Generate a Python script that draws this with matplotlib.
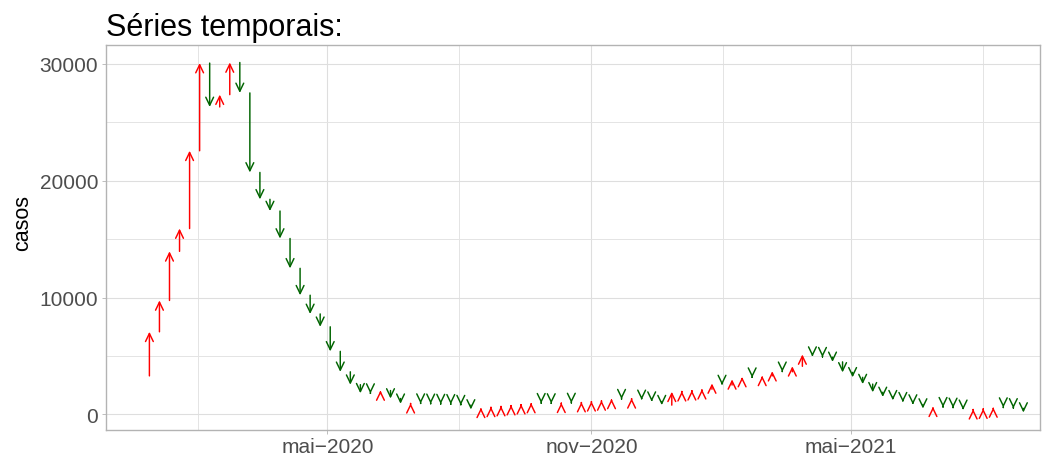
import matplotlib
matplotlib.use("Agg")
import matplotlib.pyplot as plt
import matplotlib.dates as mdates
import pandas as pd

plt.rcParams['font.family'] = ['Liberation Sans', 'DejaVu Sans']

# casos semanais (o primeiro valor so serve de ponto de partida da primeira seta)
semanas = pd.date_range('2019-12-22', periods=89, freq='7D')
casos = [
    3300,
    7070, 9750, 13950, 15900, 22550, 30050, 26300, 27350, 30100, 27500,
    20700, 18400, 17400, 15050, 12500, 10200, 8600, 7500, 5400, 3650,
    2550, 1820, 1790, 2050, 1370, 920, 960, 930, 910, 890,
    870, 800, 430, 570, 650, 720, 800, 880, 980, 960,
    940, 1000, 980, 1060, 1130, 1200, 1330, 1310, 1380, 1250,
    1100, 800, 1940, 1990, 2070, 2160, 2650, 2520, 3000, 3200,
    3150, 3300, 3700, 3650, 4120, 5130, 4950, 4900, 4500, 3600,
    3180, 2600, 1900, 1500, 1220, 1050, 850, 510, 660, 620,
    560, 400, 450, 500, 600, 590, 520, 170,
]

datas_ticks = pd.to_datetime(['2020-05-01', '2020-11-01', '2021-05-01'])
rotulos_ticks = ['mai\u22122020', 'nov\u22122020', 'mai\u22122021']
datas_minor = pd.to_datetime(['2020-02-01', '2020-08-01', '2021-02-01', '2021-08-01'])
y_ticks = [0, 10000, 20000, 30000]
y_minor = [5000, 15000, 25000]

W, H = 1059, 460
fig = plt.figure(figsize=(W / 100, H / 100), dpi=100)
ax = fig.add_axes([105.7 / W, 1 - 431 / H, (1040 - 105.7) / W, (431 - 46) / H])

x = mdates.date2num(semanas)
for i in range(1, len(casos)):
    cor = 'red' if casos[i] > casos[i - 1] else 'darkgreen'
    ax.annotate('', xy=(x[i], casos[i]), xytext=(x[i], casos[i - 1]),
                arrowprops=dict(arrowstyle='->,head_length=0.58,head_width=0.28',
                                color=cor, lw=1.05, shrinkA=0, shrinkB=0,
                                mutation_scale=10))

# limites: expansao de 5% a esquerda e em y, como no ggplot
x0, x1 = x[1], x[-1]
ax.set_xlim(x0 - 0.05 * (x1 - x0), x1 + 0.019 * (x1 - x0))
y0, y1 = min(casos), max(casos)
ax.set_ylim(y0 - 0.05 * (y1 - y0), y1 + 0.05 * (y1 - y0))

ax.set_xticks(mdates.date2num(datas_ticks))
ax.set_xticklabels(rotulos_ticks)
ax.set_xticks(mdates.date2num(datas_minor), minor=True)
ax.set_yticks(y_ticks)
ax.set_yticklabels([str(v) for v in y_ticks])
ax.set_yticks(y_minor, minor=True)

ax.set_axisbelow(True)
ax.grid(which='major', color='#DEDEDE', linewidth=0.8)
ax.grid(which='minor', color='#E4E4E4', linewidth=0.7)
for s in ax.spines.values():
    s.set_color('#B3B3B3')
    s.set_linewidth(1.0)
ax.tick_params(which='major', color='#B3B3B3', length=2.8, width=0.6,
               labelsize=15, labelcolor='#4D4D4D', pad=2.5)
ax.tick_params(which='minor', length=0)

ax.set_title('Séries temporais:', loc='left', fontsize=22, pad=7)
ax.set_ylabel('casos', fontsize=15.5)
ax.yaxis.set_label_coords(-0.078, 0.54)

fig.savefig('out.png', dpi=100)
